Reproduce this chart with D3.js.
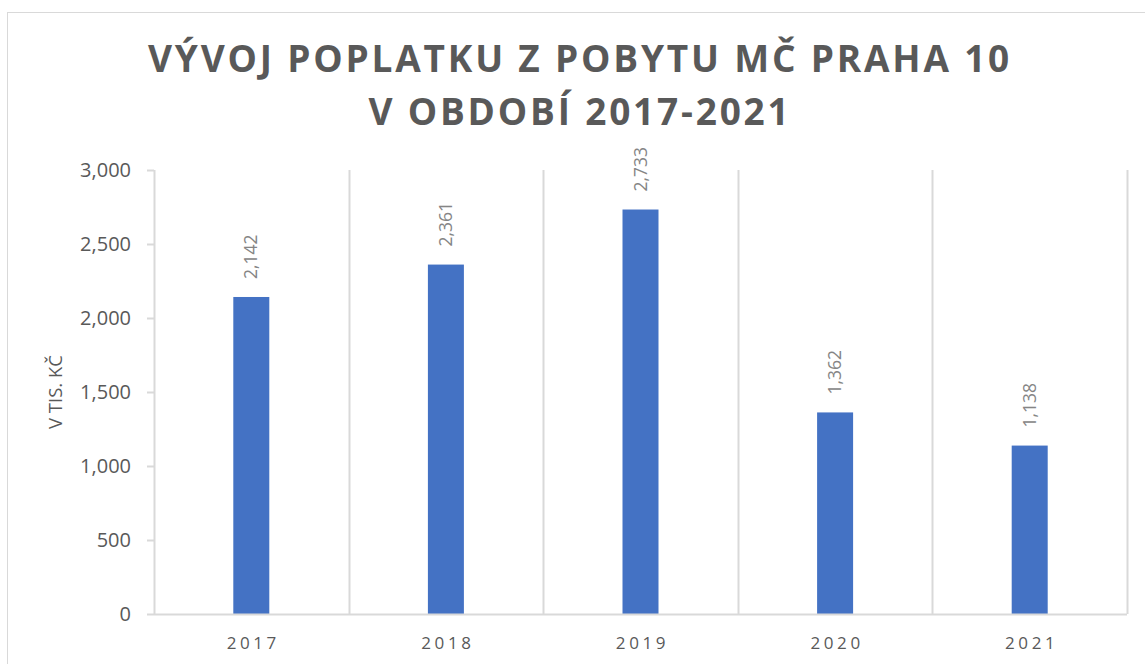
<!DOCTYPE html>
<html>
<head>
<meta charset="utf-8">
<script src="https://cdn.jsdelivr.net/npm/d3@7"></script>
<style>
  body { margin: 0; background: #fff; }
  svg text { font-family: "Open Sans", sans-serif; }
</style>
</head>
<body>
<svg id="chart" width="1145" height="664"></svg>
<script>
const years = ["2017", "2018", "2019", "2020", "2021"];
const values = [2142, 2361, 2733, 1362, 1138];
const yTicks = [0, 500, 1000, 1500, 2000, 2500, 3000];
const titleLines = ["VÝVOJ POPLATKU Z POBYTU MČ PRAHA 10", "V OBDOBÍ 2017-2021"];
const yTitle = "V TIS. KČ";

const margin = { top: 170, right: 18, bottom: 50, left: 154 },
    width = 1145 - margin.left - margin.right,
    height = 664 - margin.top - margin.bottom;

const svg = d3.select("#chart");

// outer chart border
svg.append("rect")
    .attr("x", 7.5).attr("y", 12.5)
    .attr("width", 1160).attr("height", 700)
    .attr("fill", "none")
    .attr("stroke", "#d9d9d9");

svg.selectAll(".title")
    .data(titleLines)
    .enter().append("text")
    .attr("class", "title")
    .attr("x", 580)
    .attr("y", (d, i) => 72 + i * 53)
    .attr("text-anchor", "middle")
    .style("font-size", "37px")
    .style("font-weight", "bold")
    .style("letter-spacing", "2.8px")
    .style("fill", "#595959")
    .text(d => d);

const g = svg.append("g")
    .attr("transform", "translate(" + margin.left + "," + margin.top + ")");

const xScale = d3.scaleBand()
    .domain(years)
    .range([0, width])
    .paddingInner(0)
    .paddingOuter(0);

const yScale = d3.scaleLinear()
    .domain([0, 3000])
    .range([height, 0]);

const barW = 36;

// vertical gridlines at category boundaries
const bounds = years.map(d => xScale(d)).concat([width]);
g.selectAll(".vgrid")
    .data(bounds)
    .enter().append("line")
    .attr("class", "vgrid")
    .attr("x1", d => Math.round(d) + 0.5)
    .attr("x2", d => Math.round(d) + 0.5)
    .attr("y1", 0)
    .attr("y2", height)
    .attr("stroke", "#d9d9d9")
    .attr("stroke-width", 2);

// y axis
const yAxis = g.append("g")
    .call(d3.axisLeft(yScale).tickValues(yTicks).tickSize(7).tickPadding(16).tickFormat(d3.format(",")));
yAxis.select(".domain").remove();
yAxis.selectAll(".tick line").attr("stroke", "#d9d9d9").attr("stroke-width", 2);
yAxis.selectAll(".tick text")
    .style("font-size", "20px")
    .style("fill", "#595959");

// bars
g.selectAll(".bar")
    .data(values)
    .enter().append("rect")
    .attr("class", "bar")
    .attr("x", (d, i) => xScale(years[i]) + xScale.bandwidth() / 2 - barW / 2)
    .attr("y", d => yScale(d))
    .attr("width", barW)
    .attr("height", d => height - yScale(d))
    .attr("fill", "#4472c4");

// x axis line
g.append("line")
    .attr("x1", 0).attr("x2", width)
    .attr("y1", height + 0.5).attr("y2", height + 0.5)
    .attr("stroke", "#d9d9d9")
    .attr("stroke-width", 2);

// x labels
g.selectAll(".xlabel")
    .data(years)
    .enter().append("text")
    .attr("class", "xlabel")
    .attr("x", d => xScale(d) + xScale.bandwidth() / 2 + 2)
    .attr("y", height + 35)
    .attr("text-anchor", "middle")
    .style("font-size", "17px")
    .style("letter-spacing", "3.6px")
    .style("fill", "#595959")
    .text(d => d);

// data labels
g.selectAll(".dlabel")
    .data(values)
    .enter().append("text")
    .attr("class", "dlabel")
    .attr("transform", (d, i) => "translate(" + (xScale(years[i]) + xScale.bandwidth() / 2 + 6) + "," + (yScale(d) - 18) + ") rotate(-90)")
    .attr("text-anchor", "start")
    .style("font-size", "17.5px")
    .style("fill", "#858585")
    .text(d => d3.format(",")(d));

// y axis title
svg.append("text")
    .attr("transform", "translate(62," + (margin.top + height / 2) + ") rotate(-90)")
    .attr("text-anchor", "middle")
    .style("font-size", "18.5px")
    .style("fill", "#595959")
    .text(yTitle);
</script>
</body>
</html>
